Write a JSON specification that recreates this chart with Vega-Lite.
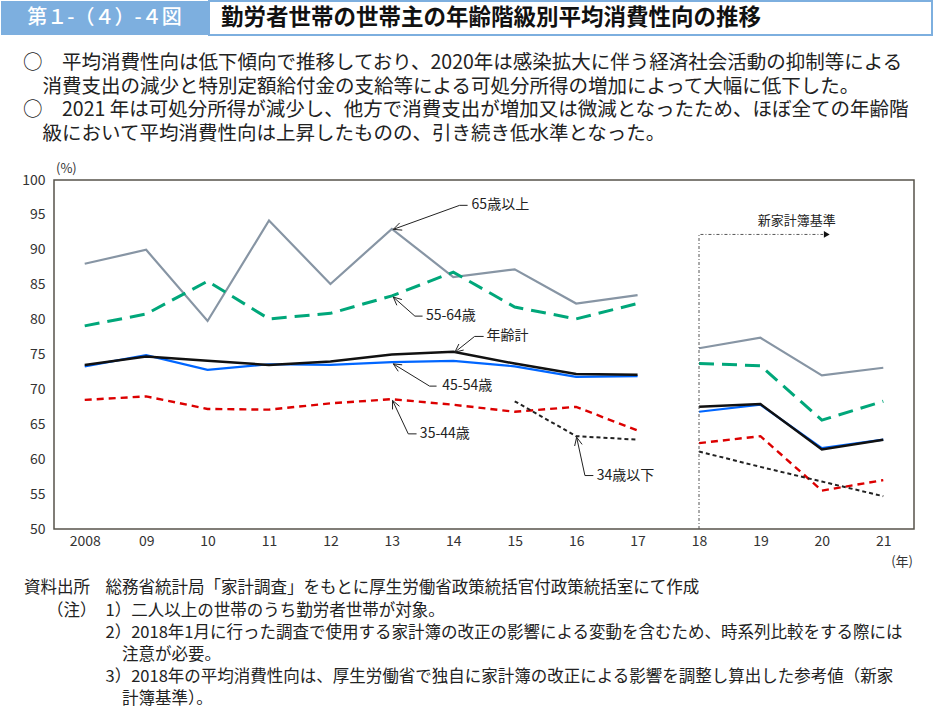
{
  "$schema": "https://vega.github.io/schema/vega-lite/v6.json",
  "padding": 0,
  "spacing": 0,
  "background": "white",
  "config": {
    "view": {"stroke": null},
    "font": "Noto Sans CJK JP",
    "axis": {"domain": false, "ticks": false, "grid": false, "labelFont": "Noto Sans CJK JP", "labelFontSize": 14, "labelColor": "#333333", "labelOverlap": false, "labelFlush": false},
    "axisY": {"labelPadding": 9, "minExtent": 53, "maxExtent": 53},
    "axisX": {"labelPadding": 5}
  },
  "datasets": {
    "lines": [
      {"series": "65歳以上", "period": "旧", "year": 2008, "value": 88.0},
      {"series": "65歳以上", "period": "旧", "year": 2009, "value": 90.0},
      {"series": "65歳以上", "period": "旧", "year": 2010, "value": 79.8},
      {"series": "65歳以上", "period": "旧", "year": 2011, "value": 94.2},
      {"series": "65歳以上", "period": "旧", "year": 2012, "value": 85.1},
      {"series": "65歳以上", "period": "旧", "year": 2013, "value": 93.0},
      {"series": "65歳以上", "period": "旧", "year": 2014, "value": 86.1},
      {"series": "65歳以上", "period": "旧", "year": 2015, "value": 87.2},
      {"series": "65歳以上", "period": "旧", "year": 2016, "value": 82.3},
      {"series": "65歳以上", "period": "旧", "year": 2017, "value": 83.5},
      {"series": "65歳以上", "period": "新", "year": 2018, "value": 75.9},
      {"series": "65歳以上", "period": "新", "year": 2019, "value": 77.4},
      {"series": "65歳以上", "period": "新", "year": 2020, "value": 72.0},
      {"series": "65歳以上", "period": "新", "year": 2021, "value": 73.1},
      {"series": "55-64歳", "period": "旧", "year": 2008, "value": 79.1},
      {"series": "55-64歳", "period": "旧", "year": 2009, "value": 80.8},
      {"series": "55-64歳", "period": "旧", "year": 2010, "value": 85.5},
      {"series": "55-64歳", "period": "旧", "year": 2011, "value": 80.1},
      {"series": "55-64歳", "period": "旧", "year": 2012, "value": 80.9},
      {"series": "55-64歳", "period": "旧", "year": 2013, "value": 83.4},
      {"series": "55-64歳", "period": "旧", "year": 2014, "value": 86.8},
      {"series": "55-64歳", "period": "旧", "year": 2015, "value": 81.8},
      {"series": "55-64歳", "period": "旧", "year": 2016, "value": 80.1},
      {"series": "55-64歳", "period": "旧", "year": 2017, "value": 82.3},
      {"series": "55-64歳", "period": "新", "year": 2018, "value": 73.7},
      {"series": "55-64歳", "period": "新", "year": 2019, "value": 73.4},
      {"series": "55-64歳", "period": "新", "year": 2020, "value": 65.6},
      {"series": "55-64歳", "period": "新", "year": 2021, "value": 68.3},
      {"series": "35-44歳", "period": "旧", "year": 2008, "value": 68.5},
      {"series": "35-44歳", "period": "旧", "year": 2009, "value": 69.0},
      {"series": "35-44歳", "period": "旧", "year": 2010, "value": 67.2},
      {"series": "35-44歳", "period": "旧", "year": 2011, "value": 67.1},
      {"series": "35-44歳", "period": "旧", "year": 2012, "value": 68.0},
      {"series": "35-44歳", "period": "旧", "year": 2013, "value": 68.6},
      {"series": "35-44歳", "period": "旧", "year": 2014, "value": 67.8},
      {"series": "35-44歳", "period": "旧", "year": 2015, "value": 66.8},
      {"series": "35-44歳", "period": "旧", "year": 2016, "value": 67.5},
      {"series": "35-44歳", "period": "旧", "year": 2017, "value": 64.1},
      {"series": "35-44歳", "period": "新", "year": 2018, "value": 62.3},
      {"series": "35-44歳", "period": "新", "year": 2019, "value": 63.3},
      {"series": "35-44歳", "period": "新", "year": 2020, "value": 55.5},
      {"series": "35-44歳", "period": "新", "year": 2021, "value": 57.0},
      {"series": "34歳以下", "period": "旧", "year": 2015, "value": 68.3},
      {"series": "34歳以下", "period": "旧", "year": 2016, "value": 63.3},
      {"series": "34歳以下", "period": "旧", "year": 2017, "value": 62.8},
      {"series": "34歳以下", "period": "新", "year": 2018, "value": 61.1},
      {"series": "34歳以下", "period": "新", "year": 2019, "value": 58.9},
      {"series": "34歳以下", "period": "新", "year": 2020, "value": 56.8},
      {"series": "34歳以下", "period": "新", "year": 2021, "value": 54.7},
      {"series": "45-54歳", "period": "旧", "year": 2008, "value": 73.3},
      {"series": "45-54歳", "period": "旧", "year": 2009, "value": 74.9},
      {"series": "45-54歳", "period": "旧", "year": 2010, "value": 72.8},
      {"series": "45-54歳", "period": "旧", "year": 2011, "value": 73.6},
      {"series": "45-54歳", "period": "旧", "year": 2012, "value": 73.5},
      {"series": "45-54歳", "period": "旧", "year": 2013, "value": 73.9},
      {"series": "45-54歳", "period": "旧", "year": 2014, "value": 74.1},
      {"series": "45-54歳", "period": "旧", "year": 2015, "value": 73.3},
      {"series": "45-54歳", "period": "旧", "year": 2016, "value": 71.8},
      {"series": "45-54歳", "period": "旧", "year": 2017, "value": 71.9},
      {"series": "45-54歳", "period": "新", "year": 2018, "value": 66.8},
      {"series": "45-54歳", "period": "新", "year": 2019, "value": 67.8},
      {"series": "45-54歳", "period": "新", "year": 2020, "value": 61.6},
      {"series": "45-54歳", "period": "新", "year": 2021, "value": 62.8},
      {"series": "年齢計", "period": "旧", "year": 2008, "value": 73.5},
      {"series": "年齢計", "period": "旧", "year": 2009, "value": 74.7},
      {"series": "年齢計", "period": "旧", "year": 2010, "value": 74.1},
      {"series": "年齢計", "period": "旧", "year": 2011, "value": 73.5},
      {"series": "年齢計", "period": "旧", "year": 2012, "value": 74.0},
      {"series": "年齢計", "period": "旧", "year": 2013, "value": 75.0},
      {"series": "年齢計", "period": "旧", "year": 2014, "value": 75.4},
      {"series": "年齢計", "period": "旧", "year": 2015, "value": 73.7},
      {"series": "年齢計", "period": "旧", "year": 2016, "value": 72.2},
      {"series": "年齢計", "period": "旧", "year": 2017, "value": 72.1},
      {"series": "年齢計", "period": "新", "year": 2018, "value": 67.5},
      {"series": "年齢計", "period": "新", "year": 2019, "value": 67.9},
      {"series": "年齢計", "period": "新", "year": 2020, "value": 61.4},
      {"series": "年齢計", "period": "新", "year": 2021, "value": 62.8}
    ],
    "leaders": [
      {"label": "65歳以上", "part": "leader", "i": 0, "x": 2014.233, "y": 96.37},
      {"label": "65歳以上", "part": "leader", "i": 1, "x": 2014.103, "y": 96.37},
      {"label": "65歳以上", "part": "leader", "i": 2, "x": 2013.023, "y": 92.93},
      {"label": "65歳以上", "part": "head", "i": 0, "x": 2013.169, "y": 92.82},
      {"label": "65歳以上", "part": "head", "i": 1, "x": 2013.023, "y": 92.93},
      {"label": "65歳以上", "part": "head", "i": 2, "x": 2013.127, "y": 93.85},
      {"label": "55-64歳", "part": "leader", "i": 0, "x": 2013.5, "y": 80.5},
      {"label": "55-64歳", "part": "leader", "i": 1, "x": 2013.375, "y": 80.5},
      {"label": "55-64歳", "part": "leader", "i": 2, "x": 2013.023, "y": 83.23},
      {"label": "55-64歳", "part": "head", "i": 0, "x": 2013.081, "y": 82.05},
      {"label": "55-64歳", "part": "head", "i": 1, "x": 2013.023, "y": 83.23},
      {"label": "55-64歳", "part": "head", "i": 2, "x": 2013.163, "y": 82.87},
      {"label": "年齢計", "part": "leader", "i": 0, "x": 2014.494, "y": 77.59},
      {"label": "年齢計", "part": "leader", "i": 1, "x": 2014.347, "y": 77.59},
      {"label": "年齢計", "part": "leader", "i": 2, "x": 2014.026, "y": 75.34},
      {"label": "年齢計", "part": "head", "i": 0, "x": 2014.169, "y": 75.64},
      {"label": "年齢計", "part": "head", "i": 1, "x": 2014.026, "y": 75.34},
      {"label": "年齢計", "part": "head", "i": 2, "x": 2014.091, "y": 76.5},
      {"label": "45-54歳", "part": "leader", "i": 0, "x": 2013.728, "y": 70.47},
      {"label": "45-54歳", "part": "leader", "i": 1, "x": 2013.614, "y": 70.47},
      {"label": "45-54歳", "part": "leader", "i": 2, "x": 2013.023, "y": 73.66},
      {"label": "45-54歳", "part": "head", "i": 0, "x": 2013.104, "y": 72.59},
      {"label": "45-54歳", "part": "head", "i": 1, "x": 2013.023, "y": 73.66},
      {"label": "45-54歳", "part": "head", "i": 2, "x": 2013.168, "y": 73.52},
      {"label": "35-44歳", "part": "leader", "i": 0, "x": 2013.402, "y": 63.63},
      {"label": "35-44歳", "part": "leader", "i": 1, "x": 2013.267, "y": 63.63},
      {"label": "35-44歳", "part": "leader", "i": 2, "x": 2013.011, "y": 68.42},
      {"label": "35-44歳", "part": "head", "i": 0, "x": 2013.011, "y": 67.13},
      {"label": "35-44歳", "part": "head", "i": 1, "x": 2013.011, "y": 68.42},
      {"label": "35-44歳", "part": "head", "i": 2, "x": 2013.124, "y": 67.58},
      {"label": "34歳以下", "part": "leader", "i": 0, "x": 2016.28, "y": 57.66},
      {"label": "34歳以下", "part": "leader", "i": 1, "x": 2016.143, "y": 57.66},
      {"label": "34歳以下", "part": "leader", "i": 2, "x": 2016.008, "y": 63.15},
      {"label": "34歳以下", "part": "head", "i": 0, "x": 2015.976, "y": 61.89},
      {"label": "34歳以下", "part": "head", "i": 1, "x": 2016.008, "y": 63.15},
      {"label": "34歳以下", "part": "head", "i": 2, "x": 2016.097, "y": 62.12}
    ],
    "labels": [
      {"label": "65歳以上", "x": 2014.298, "y": 96.37},
      {"label": "55-64歳", "x": 2013.554, "y": 80.5},
      {"label": "年齢計", "x": 2014.542, "y": 77.59},
      {"label": "45-54歳", "x": 2013.821, "y": 70.47},
      {"label": "35-44歳", "x": 2013.456, "y": 63.63},
      {"label": "34歳以下", "x": 2016.334, "y": 57.66}
    ],
    "basis": [
      {"i": 0, "x": 2018, "y": 50},
      {"i": 1, "x": 2018, "y": 92.2},
      {"i": 2, "x": 2020.02, "y": 92.2}
    ],
    "summary": [
      {"line": 1, "role": "bullet", "text": "○　平均消費性向は低下傾向で推移しており、2020年は感染拡大に伴う経済社会活動の抑制等による"},
      {"line": 2, "role": "cont", "text": "消費支出の減少と特別定額給付金の支給等による可処分所得の増加によって大幅に低下した。"},
      {"line": 3, "role": "bullet", "text": "○　2021 年は可処分所得が減少し、他方で消費支出が増加又は微減となったため、ほぼ全ての年齢階"},
      {"line": 4, "role": "cont", "text": "級において平均消費性向は上昇したものの、引き続き低水準となった。"}
    ],
    "notes": [
      {"line": 1, "role": "head", "text": "資料出所"},
      {"line": 1, "role": "item", "text": "総務省統計局「家計調査」をもとに厚生労働省政策統括官付政策統括室にて作成"},
      {"line": 2, "role": "paren", "text": "（注）"},
      {"line": 2, "role": "item", "text": "1）二人以上の世帯のうち勤労者世帯が対象。"},
      {"line": 3, "role": "item", "text": "2）2018年1月に行った調査で使用する家計簿の改正の影響による変動を含むため、時系列比較をする際には"},
      {"line": 4, "role": "cont", "text": "注意が必要。"},
      {"line": 5, "role": "item", "text": "3）2018年の平均消費性向は、厚生労働省で独自に家計簿の改正による影響を調整し算出した参考値（新家"},
      {"line": 6, "role": "cont", "text": "計簿基準）。"}
    ]
  },
  "vconcat": [
    {
      "width": 860,
      "height": 34,
      "data": {"values": [{}]},
      "layer": [
        {
          "mark": {"type": "rect", "fill": "#7dafdf"},
          "encoding": {
            "x": {"datum": 0, "type": "quantitative", "scale": {"domain": [53, 913], "nice": false, "zero": false}, "axis": null},
            "x2": {"datum": 207}
          }
        },
        {
          "mark": {"type": "rect", "fill": "white", "stroke": "#7dafdf", "strokeWidth": 2},
          "encoding": {
            "x": {"datum": 208, "type": "quantitative", "axis": null},
            "x2": {"datum": 931}
          }
        },
        {
          "mark": {"type": "text", "text": "第１-（４）-４図", "color": "white", "fontSize": 20, "fontWeight": 500, "align": "center", "baseline": "middle"},
          "encoding": {"x": {"datum": 103.5, "type": "quantitative", "axis": null}}
        },
        {
          "mark": {"type": "text", "text": "勤労者世帯の世帯主の年齢階級別平均消費性向の推移", "color": "#111111", "fontSize": 22.5, "fontWeight": "bold", "align": "left", "baseline": "middle"},
          "encoding": {"x": {"datum": 220, "type": "quantitative", "axis": null}}
        }
      ]
    },
    {
      "width": 860,
      "height": 126,
      "data": {"name": "summary"},
      "encoding": {
        "y": {"field": "line", "type": "quantitative", "scale": {"domain": [-0.166, 5.196], "nice": false, "zero": false, "reverse": true}, "axis": null},
        "text": {"field": "text"}
      },
      "layer": [
        {
          "transform": [{"filter": "datum.role == 'bullet'"}],
          "mark": {"type": "text", "align": "left", "baseline": "middle", "fontSize": 19.5, "color": "#222222"},
          "encoding": {"x": {"datum": 22, "type": "quantitative", "scale": {"domain": [53, 913], "nice": false, "zero": false}, "axis": null}}
        },
        {
          "transform": [{"filter": "datum.role == 'cont'"}],
          "mark": {"type": "text", "align": "left", "baseline": "middle", "fontSize": 19.5, "color": "#222222"},
          "encoding": {"x": {"datum": 41.5, "type": "quantitative", "axis": null}}
        }
      ]
    },
    {
      "width": 860,
      "height": 349,
      "view": {"stroke": "#57534b", "strokeWidth": 1.5},
      "layer": [
        {
          "data": {"name": "lines"},
          "transform": [{"filter": "datum.series == '65歳以上'"}],
          "mark": {"type": "line", "color": "#8795a4", "strokeWidth": 2.2},
          "encoding": {
            "x": {"field": "year", "type": "quantitative", "title": null, "scale": {"domain": [2007.5, 2021.5], "nice": false, "zero": false}, "axis": {"title": null, "values": [2008, 2009, 2010, 2011, 2012, 2013, 2014, 2015, 2016, 2017, 2018, 2019, 2020, 2021], "labelOverlap": false, "labelExpr": "datum.value == 2008 ? '2008' : substring(toString(datum.value), 2)"}},
            "y": {"field": "value", "type": "quantitative", "title": null, "scale": {"domain": [50, 100], "nice": false, "zero": false}, "axis": {"title": null, "values": [50, 55, 60, 65, 70, 75, 80, 85, 90, 95, 100], "labelOverlap": false}},
            "detail": {"field": "period"}
          }
        },
        {
          "data": {"name": "lines"},
          "transform": [{"filter": "datum.series == '55-64歳'"}],
          "mark": {"type": "line", "color": "#00a77a", "strokeWidth": 3, "strokeDash": [15, 8]},
          "encoding": {
            "x": {"field": "year", "type": "quantitative", "title": null, "axis": {"title": null, "values": [2008, 2009, 2010, 2011, 2012, 2013, 2014, 2015, 2016, 2017, 2018, 2019, 2020, 2021], "labelOverlap": false, "labelExpr": "datum.value == 2008 ? '2008' : substring(toString(datum.value), 2)"}},
            "y": {"field": "value", "type": "quantitative", "title": null, "axis": {"title": null, "values": [50, 55, 60, 65, 70, 75, 80, 85, 90, 95, 100], "labelOverlap": false}},
            "detail": {"field": "period"}
          }
        },
        {
          "data": {"name": "lines"},
          "transform": [{"filter": "datum.series == '35-44歳'"}],
          "mark": {"type": "line", "color": "#dc0000", "strokeWidth": 2.4, "strokeDash": [7, 5]},
          "encoding": {
            "x": {"field": "year", "type": "quantitative", "title": null, "axis": {"title": null, "values": [2008, 2009, 2010, 2011, 2012, 2013, 2014, 2015, 2016, 2017, 2018, 2019, 2020, 2021], "labelOverlap": false, "labelExpr": "datum.value == 2008 ? '2008' : substring(toString(datum.value), 2)"}},
            "y": {"field": "value", "type": "quantitative", "title": null, "axis": {"title": null, "values": [50, 55, 60, 65, 70, 75, 80, 85, 90, 95, 100], "labelOverlap": false}},
            "detail": {"field": "period"}
          }
        },
        {
          "data": {"name": "lines"},
          "transform": [{"filter": "datum.series == '34歳以下'"}],
          "mark": {"type": "line", "color": "#222222", "strokeWidth": 2, "strokeDash": [4, 3]},
          "encoding": {
            "x": {"field": "year", "type": "quantitative", "title": null, "axis": {"title": null, "values": [2008, 2009, 2010, 2011, 2012, 2013, 2014, 2015, 2016, 2017, 2018, 2019, 2020, 2021], "labelOverlap": false, "labelExpr": "datum.value == 2008 ? '2008' : substring(toString(datum.value), 2)"}},
            "y": {"field": "value", "type": "quantitative", "title": null, "axis": {"title": null, "values": [50, 55, 60, 65, 70, 75, 80, 85, 90, 95, 100], "labelOverlap": false}},
            "detail": {"field": "period"}
          }
        },
        {
          "data": {"name": "lines"},
          "transform": [{"filter": "datum.series == '45-54歳'"}],
          "mark": {"type": "line", "color": "#0066ff", "strokeWidth": 2.2},
          "encoding": {
            "x": {"field": "year", "type": "quantitative", "title": null, "axis": {"title": null, "values": [2008, 2009, 2010, 2011, 2012, 2013, 2014, 2015, 2016, 2017, 2018, 2019, 2020, 2021], "labelOverlap": false, "labelExpr": "datum.value == 2008 ? '2008' : substring(toString(datum.value), 2)"}},
            "y": {"field": "value", "type": "quantitative", "title": null, "axis": {"title": null, "values": [50, 55, 60, 65, 70, 75, 80, 85, 90, 95, 100], "labelOverlap": false}},
            "detail": {"field": "period"}
          }
        },
        {
          "data": {"name": "lines"},
          "transform": [{"filter": "datum.series == '年齢計'"}],
          "mark": {"type": "line", "color": "#111111", "strokeWidth": 2.5},
          "encoding": {
            "x": {"field": "year", "type": "quantitative", "title": null, "axis": {"title": null, "values": [2008, 2009, 2010, 2011, 2012, 2013, 2014, 2015, 2016, 2017, 2018, 2019, 2020, 2021], "labelOverlap": false, "labelExpr": "datum.value == 2008 ? '2008' : substring(toString(datum.value), 2)"}},
            "y": {"field": "value", "type": "quantitative", "title": null, "axis": {"title": null, "values": [50, 55, 60, 65, 70, 75, 80, 85, 90, 95, 100], "labelOverlap": false}},
            "detail": {"field": "period"}
          }
        },
        {
          "data": {"name": "leaders"},
          "mark": {"type": "line", "color": "#222222", "strokeWidth": 1},
          "encoding": {
            "x": {"field": "x", "type": "quantitative", "title": null, "axis": {"title": null, "values": [2008, 2009, 2010, 2011, 2012, 2013, 2014, 2015, 2016, 2017, 2018, 2019, 2020, 2021], "labelOverlap": false, "labelExpr": "datum.value == 2008 ? '2008' : substring(toString(datum.value), 2)"}},
            "y": {"field": "y", "type": "quantitative", "title": null, "axis": {"title": null, "values": [50, 55, 60, 65, 70, 75, 80, 85, 90, 95, 100], "labelOverlap": false}},
            "detail": [{"field": "label"}, {"field": "part"}],
            "order": {"field": "i"}
          }
        },
        {
          "data": {"name": "labels"},
          "mark": {"type": "text", "align": "left", "baseline": "middle", "fontSize": 14, "color": "#222222"},
          "encoding": {
            "x": {"field": "x", "type": "quantitative", "title": null, "axis": {"title": null, "values": [2008, 2009, 2010, 2011, 2012, 2013, 2014, 2015, 2016, 2017, 2018, 2019, 2020, 2021], "labelOverlap": false, "labelExpr": "datum.value == 2008 ? '2008' : substring(toString(datum.value), 2)"}},
            "y": {"field": "y", "type": "quantitative", "title": null, "axis": {"title": null, "values": [50, 55, 60, 65, 70, 75, 80, 85, 90, 95, 100], "labelOverlap": false}},
            "text": {"field": "label"}
          }
        },
        {
          "data": {"name": "basis"},
          "mark": {"type": "line", "color": "#555555", "strokeWidth": 1, "strokeDash": [3, 2, 1, 2]},
          "encoding": {
            "x": {"field": "x", "type": "quantitative", "title": null, "axis": {"title": null, "values": [2008, 2009, 2010, 2011, 2012, 2013, 2014, 2015, 2016, 2017, 2018, 2019, 2020, 2021], "labelOverlap": false, "labelExpr": "datum.value == 2008 ? '2008' : substring(toString(datum.value), 2)"}},
            "y": {"field": "y", "type": "quantitative", "title": null, "axis": {"title": null, "values": [50, 55, 60, 65, 70, 75, 80, 85, 90, 95, 100], "labelOverlap": false}},
            "order": {"field": "i"}
          }
        },
        {
          "data": {"values": [{}]},
          "mark": {"type": "point", "shape": "triangle-right", "filled": true, "color": "#111111", "size": 45, "opacity": 1},
          "encoding": {
            "x": {"datum": 2020.08, "type": "quantitative", "axis": {"title": null, "values": [2008, 2009, 2010, 2011, 2012, 2013, 2014, 2015, 2016, 2017, 2018, 2019, 2020, 2021], "labelOverlap": false, "labelExpr": "datum.value == 2008 ? '2008' : substring(toString(datum.value), 2)"}},
            "y": {"datum": 92.2, "type": "quantitative", "axis": {"title": null, "values": [50, 55, 60, 65, 70, 75, 80, 85, 90, 95, 100], "labelOverlap": false}}
          }
        },
        {
          "data": {"values": [{}]},
          "mark": {"type": "text", "text": "新家計簿基準", "align": "center", "baseline": "middle", "fontSize": 13, "color": "#222222"},
          "encoding": {
            "x": {"datum": 2019.59, "type": "quantitative", "axis": {"title": null, "values": [2008, 2009, 2010, 2011, 2012, 2013, 2014, 2015, 2016, 2017, 2018, 2019, 2020, 2021], "labelOverlap": false, "labelExpr": "datum.value == 2008 ? '2008' : substring(toString(datum.value), 2)"}},
            "y": {"datum": 94.1, "type": "quantitative", "axis": {"title": null, "values": [50, 55, 60, 65, 70, 75, 80, 85, 90, 95, 100], "labelOverlap": false}}
          }
        },
        {
          "data": {"values": [{}]},
          "mark": {"type": "text", "text": "(%)", "align": "left", "baseline": "middle", "fontSize": 13, "color": "#333333", "dx": 2, "dy": -11},
          "encoding": {
            "x": {"datum": 2007.5, "type": "quantitative", "axis": {"title": null, "values": [2008, 2009, 2010, 2011, 2012, 2013, 2014, 2015, 2016, 2017, 2018, 2019, 2020, 2021], "labelOverlap": false, "labelExpr": "datum.value == 2008 ? '2008' : substring(toString(datum.value), 2)"}},
            "y": {"datum": 100, "type": "quantitative", "axis": {"title": null, "values": [50, 55, 60, 65, 70, 75, 80, 85, 90, 95, 100], "labelOverlap": false}}
          }
        },
        {
          "data": {"values": [{}]},
          "mark": {"type": "text", "text": "(年)", "align": "right", "baseline": "middle", "fontSize": 13, "color": "#333333", "dx": -1, "dy": 33},
          "encoding": {
            "x": {"datum": 2021.5, "type": "quantitative", "axis": {"title": null, "values": [2008, 2009, 2010, 2011, 2012, 2013, 2014, 2015, 2016, 2017, 2018, 2019, 2020, 2021], "labelOverlap": false, "labelExpr": "datum.value == 2008 ? '2008' : substring(toString(datum.value), 2)"}},
            "y": {"datum": 50, "type": "quantitative", "axis": {"title": null, "values": [50, 55, 60, 65, 70, 75, 80, 85, 90, 95, 100], "labelOverlap": false}}
          }
        }
      ]
    },
    {
      "width": 860,
      "height": 156,
      "data": {"name": "notes"},
      "encoding": {
        "y": {"field": "line", "type": "quantitative", "scale": {"domain": [0.1667, 7.194], "nice": false, "zero": false, "reverse": true}, "axis": null},
        "text": {"field": "text"}
      },
      "layer": [
        {
          "transform": [{"filter": "datum.role == 'head'"}],
          "mark": {"type": "text", "align": "left", "baseline": "middle", "fontSize": 16.5, "color": "#222222"},
          "encoding": {"x": {"datum": 23, "type": "quantitative", "scale": {"domain": [53, 913], "nice": false, "zero": false}, "axis": null}}
        },
        {
          "transform": [{"filter": "datum.role == 'paren'"}],
          "mark": {"type": "text", "align": "left", "baseline": "middle", "fontSize": 16.5, "color": "#222222"},
          "encoding": {"x": {"datum": 46, "type": "quantitative", "axis": null}}
        },
        {
          "transform": [{"filter": "datum.role == 'item'"}],
          "mark": {"type": "text", "align": "left", "baseline": "middle", "fontSize": 16.5, "color": "#222222"},
          "encoding": {"x": {"datum": 104.5, "type": "quantitative", "axis": null}}
        },
        {
          "transform": [{"filter": "datum.role == 'cont'"}],
          "mark": {"type": "text", "align": "left", "baseline": "middle", "fontSize": 16.5, "color": "#222222"},
          "encoding": {"x": {"datum": 121, "type": "quantitative", "axis": null}}
        }
      ]
    }
  ]
}
